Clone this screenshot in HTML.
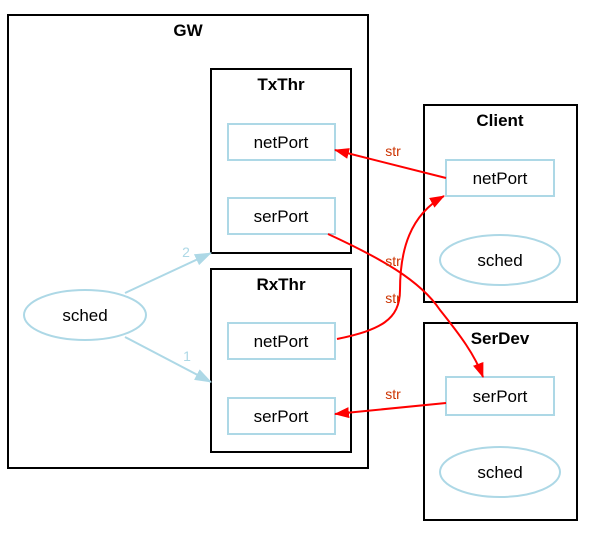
<!DOCTYPE html>
<html><head><meta charset="utf-8"><style>html,body{margin:0;padding:0;background:#fff}</style></head>
<body>
<svg width="589" height="547" viewBox="0 0 589 547" xmlns="http://www.w3.org/2000/svg" font-family="Liberation Sans, Arial, sans-serif">
<defs>
<marker id="r" markerWidth="15" markerHeight="11" refX="14" refY="5.5" orient="auto" markerUnits="userSpaceOnUse"><path d="M0,0 L15,5.5 L0,11 z" fill="red"/></marker>
<marker id="b" markerWidth="17" markerHeight="12" refX="16" refY="6" orient="auto" markerUnits="userSpaceOnUse"><path d="M0,0 L17,6 L0,12 z" fill="#add8e6"/></marker>
</defs>
<g fill="none" stroke="#000" stroke-width="2">
<rect x="8" y="15" width="360" height="453"/>
<rect x="211" y="69" width="140" height="184"/>
<rect x="211" y="269" width="140" height="183"/>
<rect x="424" y="105" width="153" height="197"/>
<rect x="424" y="323" width="153" height="197"/>
</g>
<g font-weight="bold" font-size="17" text-anchor="middle" fill="#000">
<text x="188" y="36">GW</text>
<text x="281" y="90">TxThr</text>
<text x="281" y="290">RxThr</text>
<text x="500" y="126">Client</text>
<text x="500" y="344">SerDev</text>
</g>
<g fill="none" stroke="#add8e6" stroke-width="2">
<rect x="228" y="124" width="107" height="36"/>
<rect x="228" y="198" width="107" height="36"/>
<rect x="228" y="323" width="107" height="36"/>
<rect x="228" y="398" width="107" height="36"/>
<rect x="446" y="160" width="108" height="36"/>
<rect x="446" y="377" width="108" height="38"/>
<ellipse cx="85" cy="315" rx="61" ry="25"/>
<ellipse cx="500" cy="260" rx="60" ry="25"/>
<ellipse cx="500" cy="472" rx="60" ry="25"/>
<path d="M125,293 L211,253" marker-end="url(#b)"/>
<path d="M125,337 L211,382" marker-end="url(#b)"/>
</g>
<g font-size="17" text-anchor="middle" fill="#000">
<text x="281" y="148">netPort</text>
<text x="281" y="222">serPort</text>
<text x="281" y="347">netPort</text>
<text x="281" y="422">serPort</text>
<text x="500" y="184">netPort</text>
<text x="500" y="402">serPort</text>
<text x="85" y="321">sched</text>
<text x="500" y="266">sched</text>
<text x="500" y="478">sched</text>
</g>
<g font-size="14" fill="#add8e6" text-anchor="middle">
<text x="186" y="257">2</text>
<text x="187" y="361">1</text>
</g>
<g fill="none" stroke="red" stroke-width="2">
<path d="M446,178 L335,150" marker-end="url(#r)"/>
<path d="M328,234 C380,258 420,280 440,310 C460,335 475,355 483,377" marker-end="url(#r)"/>
<path d="M337,339 C380,330 400,320 400,290 C400,250 410,215 444,196" marker-end="url(#r)"/>
<path d="M446,403 L335,414" marker-end="url(#r)"/>
</g>
<g font-size="14" fill="#cc3300" text-anchor="middle">
<text x="393" y="156">str</text>
<text x="393" y="266">str</text>
<text x="393" y="303">str</text>
<text x="393" y="399">str</text>
</g>
</svg>
</body></html>
